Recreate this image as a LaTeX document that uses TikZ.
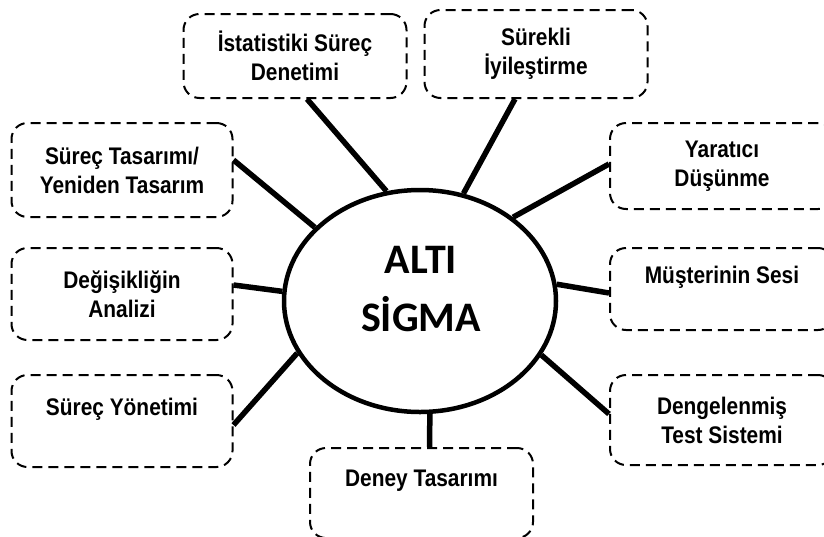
\documentclass[tikz,border=0pt]{standalone}
\usepackage{fontspec}
\setmainfont{Liberation Sans}
\newfontfamily\kutufont[FakeStretch=0.87]{Liberation Sans}
\newfontfamily\sigmafont{Carlito}
\usetikzlibrary{shapes.geometric}

\begin{document}
\begin{tikzpicture}[x=1pt,y=-1pt,
    kutu/.style={draw,dash pattern=on 10pt off 6pt,line width=2pt,rounded corners=16pt,align=center,inner sep=0pt,minimum width=223pt,font=\kutufont\fontsize{24}{29}\selectfont\bfseries},
    bag/.style={line width=5.5pt}]
    \useasboundingbox (0,0) rectangle (824,536);
    \node[draw,ellipse,line width=4.5pt,minimum width=272pt,minimum height=222pt,inner sep=0pt] (sigma) at (420,301) {};
    \node[align=center,font=\sigmafont\fontsize{42}{58}\selectfont\bfseries] (sigmayazi) at (421,289) {ALTI\\SİGMA};
    \node[kutu,minimum height=84pt] (isd) at (295,56) {İstatistiki Süreç\\Denetimi};
    \node[kutu,minimum height=88pt] (sur) at (536,54) {Sürekli\\İyileştirme};
    \node[kutu,minimum height=94pt,minimum width=221pt] (sta) at (122,170) {Süreç Tasarımı/\\Yeniden Tasarım};
    \node[kutu,minimum height=86pt,minimum width=224pt] (yar) at (722,166) {Yaratıcı\\Düşünme};
    \node[kutu,minimum height=92pt,minimum width=221pt] (deg) at (122,294) {Değişikliğin\\Analizi};
    \node[kutu,minimum height=82pt,minimum width=224pt] (mus) at (722,289) {Müşterinin Sesi\\\mbox{}};
    \node[kutu,minimum height=92pt,minimum width=221pt] (sy) at (122,421) {Süreç Yönetimi\\\mbox{}};
    \node[kutu,minimum height=90pt,minimum width=224pt] (den) at (722,420) {Dengelenmiş\\Test Sistemi};
    \node[kutu,minimum height=90pt] (dt) at (421.5,493) {Deney Tasarımı\\\mbox{}};
    % kollar
    \draw[bag] ([xshift=12pt]isd.south) -- (sigma.107);
    \draw[bag] ([xshift=-21pt]sur.south) -- (sigma.68);
    \draw[bag] ([yshift=10pt]sta.east) -- (sigma.145);
    \draw[bag] ([yshift=2pt]yar.west) -- (sigma.42);
    \draw[bag] ([yshift=9pt]deg.east) -- (sigma.176);
    \draw[bag] ([yshift=-4pt]mus.west) -- (sigma.7);
    \draw[bag] ([yshift=-4pt]sy.east) -- (sigma.203);
    \draw[bag] ([yshift=6pt]den.west) -- (sigma.336);
    \draw[bag] ([xshift=8pt]dt.north) -- (sigma.275);
\end{tikzpicture}
\end{document}
